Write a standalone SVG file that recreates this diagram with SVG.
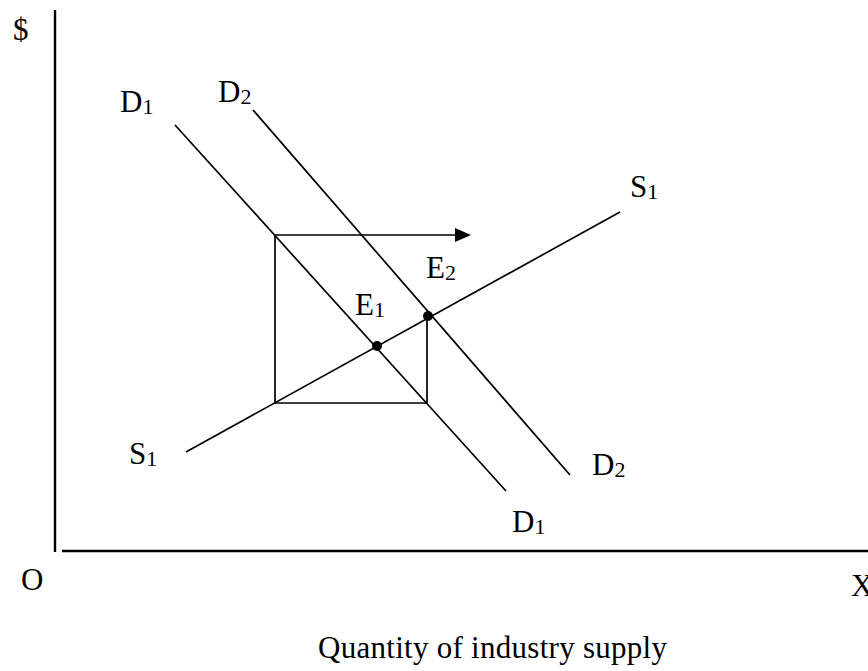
<svg xmlns="http://www.w3.org/2000/svg" width="868" height="671" viewBox="0 0 868 671">
<defs>
<style>
.t{font-family:"Liberation Serif","Times New Roman",serif;font-size:31px;fill:#000}
.s{font-size:22px}
.ln{stroke:#000;stroke-width:1.7;fill:none}
.ax{stroke:#000;stroke-width:2.4;fill:none}
</style>
</defs>
<rect width="868" height="671" fill="#fff"/>
<g id="axes">
<line class="ax" x1="55" y1="10" x2="55" y2="552"/>
<line class="ax" x1="62" y1="551" x2="868" y2="551"/>
</g>
<g id="connectors">
<line class="ln" x1="175" y1="125" x2="506" y2="491"/>
<line class="ln" x1="253" y1="110" x2="570" y2="475"/>
<line class="ln" x1="186" y1="452" x2="620" y2="212"/>
<polyline class="ln" points="427,316 427,403 275,403 275,235"/>
<line class="ln" x1="275" y1="235" x2="456" y2="235"/>
<path d="M455,228 L471,235 L455,242 Z" fill="#000"/>
</g>
<g id="E1"><circle cx="377" cy="346" r="5" fill="#000"/><text class="t" x="355" y="315">E<tspan class="s" dy="2">1</tspan></text></g>
<g id="E2"><circle cx="428" cy="316" r="5" fill="#000"/><text class="t" x="426" y="278">E<tspan class="s" dy="2">2</tspan></text></g>
<g id="labels">
<text class="t" x="13" y="40">$</text>
<text class="t" x="120" y="112">D<tspan class="s" dy="2">1</tspan></text>
<text class="t" x="218" y="102">D<tspan class="s" dy="2">2</tspan></text>
<text class="t" x="630" y="197">S<tspan class="s" dy="2">1</tspan></text>
<text class="t" x="129" y="464">S<tspan class="s" dy="2">1</tspan></text>
<text class="t" x="592" y="475">D<tspan class="s" dy="2">2</tspan></text>
<text class="t" x="512" y="532">D<tspan class="s" dy="2">1</tspan></text>
<text class="t" x="21" y="590">O</text>
<text class="t" x="851" y="596">X</text>
<text class="t" x="318" y="658" textLength="349">Quantity of industry supply</text>
</g>
</svg>
